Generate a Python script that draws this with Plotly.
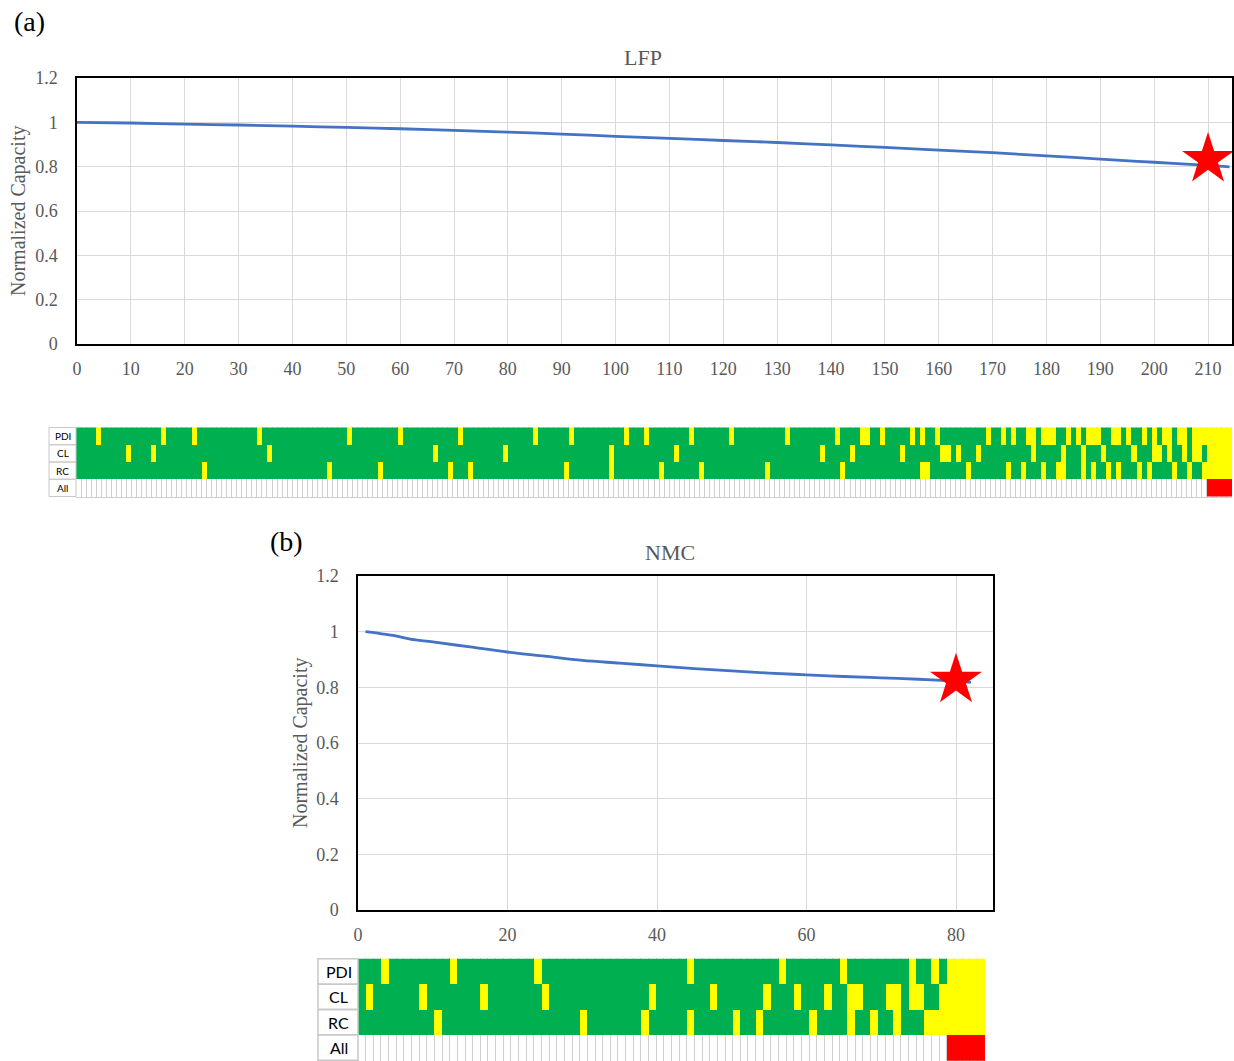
import plotly.graph_objects as go

# ---------------- data ----------------
lfp_cycles = [0, 10, 20, 30, 40, 50, 60, 70, 80, 90, 100, 110, 120, 130, 140, 150,
              160, 170, 180, 190, 200, 210, 214]
lfp_capacity = [1.000, 0.997, 0.992, 0.988, 0.983, 0.977, 0.971, 0.964, 0.956, 0.947,
                0.937, 0.928, 0.918, 0.909, 0.898, 0.887, 0.875, 0.863, 0.849, 0.834,
                0.820, 0.806, 0.799]
lfp_star_x = [210]
lfp_star_y = [0.833]

nmc_cycles = [1, 3, 5, 7, 10, 15, 20, 25, 30, 35, 40, 45, 50, 55, 60, 65, 70, 75, 80, 82]
nmc_capacity = [1.000, 0.993, 0.985, 0.973, 0.963, 0.945, 0.927, 0.912, 0.897, 0.887,
                0.877, 0.867, 0.859, 0.851, 0.845, 0.839, 0.834, 0.829, 0.822, 0.818]
nmc_star_x = [80]
nmc_star_y = [0.826]

row_labels = ["All", "RC", "CL", "PDI"]  # bottom -> top

lfp_n_cols = 230
lfp_pdi_yellow = [4, 17, 23, 36, 54, 64, 76, 91, 98, 109, 113, 122, 130, 141, 151, 156, 157,
                  160, 166, 168, 171, 181, 184, 186, 189, 190, 192, 193, 194, 197, 199, 201,
                  202, 203, 206, 207, 209, 212, 214, 216, 217, 219, 220, 222, 223, 224, 225,
                  226, 227, 228, 229]
lfp_cl_yellow = [10, 15, 38, 71, 85, 106, 119, 148, 154, 164, 172, 173, 175, 179, 190, 196,
                 200, 204, 210, 214, 215, 217, 220, 222, 223, 225, 226, 227, 228, 229]
lfp_rc_yellow = [25, 50, 60, 74, 78, 97, 106, 116, 124, 137, 152, 168, 169, 177, 185, 188,
                 192, 195, 196, 200, 202, 205, 207, 211, 213, 218, 221, 224, 225, 226, 227,
                 228, 229]
lfp_all_red = [225, 226, 227, 228, 229]

nmc_n_cols = 82
nmc_pdi_yellow = [3, 12, 23, 43, 55, 63, 72, 75, 77, 78, 79, 80, 81]
nmc_cl_yellow = [1, 8, 16, 24, 38, 46, 53, 57, 61, 64, 65, 69, 70, 72, 73, 76, 77, 78, 79,
                 80, 81]
nmc_rc_yellow = [10, 29, 37, 43, 49, 52, 59, 64, 67, 70, 74, 75, 76, 77, 78, 79, 80, 81]
nmc_all_red = [77, 78, 79, 80, 81]

# ---------------- styles ----------------
W, H = 1234, 1061
GREEN, YELLOW, RED = "#00B050", "#FFFF00", "#FF0000"
LINE_BLUE = "#4472C4"
GRID = "#D9D9D9"
TXT = "#595959"
SERIF = "Liberation Serif, Times New Roman, serif"
SANS = "Lato, Noto Sans, sans-serif"


def px_x(p):
    return p / W


def px_y(p):
    return 1 - p / H


def build_z(n, pdi, cl, rc, red):
    all_row = [2 if i in red else None for i in range(n)]
    rc_row = [1 if i in rc else 0 for i in range(n)]
    cl_row = [1 if i in cl else 0 for i in range(n)]
    pdi_row = [1 if i in pdi else 0 for i in range(n)]
    return [all_row, rc_row, cl_row, pdi_row]


cscale = [[0, GREEN], [0.25, GREEN], [0.25, YELLOW], [0.75, YELLOW], [0.75, RED], [1, RED]]

fig = go.Figure()

# LFP line
fig.add_trace(go.Scatter(x=lfp_cycles, y=lfp_capacity, mode="lines",
                         line=dict(color=LINE_BLUE, width=2.8, shape="spline"),
                         xaxis="x", yaxis="y", showlegend=False))
fig.add_trace(go.Scatter(x=lfp_star_x, y=lfp_star_y, mode="markers",
                         marker=dict(symbol="star", size=39, color=RED, line=dict(width=0)),
                         xaxis="x", yaxis="y", showlegend=False, cliponaxis=False))
# LFP heatmap
fig.add_trace(go.Heatmap(z=build_z(lfp_n_cols, lfp_pdi_yellow, lfp_cl_yellow, lfp_rc_yellow, lfp_all_red),
                         x=list(range(lfp_n_cols)), y=row_labels, colorscale=cscale,
                         zmin=0, zmax=2, showscale=False, xaxis="x2", yaxis="y2",
                         hoverongaps=False))
# NMC line
fig.add_trace(go.Scatter(x=nmc_cycles, y=nmc_capacity, mode="lines",
                         line=dict(color=LINE_BLUE, width=2.8, shape="spline"),
                         xaxis="x3", yaxis="y3", showlegend=False))
fig.add_trace(go.Scatter(x=nmc_star_x, y=nmc_star_y, mode="markers",
                         marker=dict(symbol="star", size=39, color=RED, line=dict(width=0)),
                         xaxis="x3", yaxis="y3", showlegend=False, cliponaxis=False))
# NMC heatmap
fig.add_trace(go.Heatmap(z=build_z(nmc_n_cols, nmc_pdi_yellow, nmc_cl_yellow, nmc_rc_yellow, nmc_all_red),
                         x=list(range(nmc_n_cols)), y=row_labels, colorscale=cscale,
                         zmin=0, zmax=2, showscale=False, xaxis="x4", yaxis="y4",
                         hoverongaps=False))

tickfont = dict(family=SERIF, size=18, color=TXT)

line_x = dict(showline=True, mirror=True, linecolor="black", linewidth=1.5,
              showgrid=True, gridcolor=GRID, gridwidth=1, zeroline=False,
              ticks="", tickfont=tickfont, ticklabelstandoff=8, automargin=False)
line_y = dict(showline=True, mirror=True, linecolor="black", linewidth=1.5,
              showgrid=True, gridcolor=GRID, gridwidth=1, zeroline=False,
              ticks="", tickfont=tickfont, range=[0, 1.2], dtick=0.2, tick0=0,
              ticklabelstandoff=14, automargin=False)

heat_x = dict(showgrid=True, gridcolor="#CFCFCF", gridwidth=1, zeroline=False,
              tick0=-0.5, dtick=1, showticklabels=False, ticks="",
              showline=True, linecolor="#D0D0D0", linewidth=1, automargin=False)
heat_y = dict(showgrid=False, zeroline=False, showticklabels=False, ticks="",
              type="category", fixedrange=True, automargin=False)

fig.update_layout(
    width=W, height=H, margin=dict(l=0, r=0, t=0, b=0, pad=0), autosize=False,
    paper_bgcolor="white", plot_bgcolor="white",
    xaxis=dict(line_x, domain=[px_x(77), px_x(1232)], range=[0, 214.45], dtick=10, tick0=0,
               anchor="y"),
    yaxis=dict(line_y, domain=[px_y(344), px_y(78)], anchor="x"),
    xaxis2=dict(heat_x, domain=[px_x(76), px_x(1232)], range=[-0.5, lfp_n_cols - 0.5],
                anchor="y2"),
    yaxis2=dict(heat_y, domain=[px_y(497), px_y(427)], anchor="x2"),
    xaxis3=dict(line_x, domain=[px_x(358), px_x(993)], range=[0, 84.95], dtick=20, tick0=0,
                anchor="y3"),
    yaxis3=dict(line_y, domain=[px_y(910), px_y(576)], anchor="x3"),
    xaxis4=dict(heat_x, domain=[px_x(358), px_x(985)], range=[-0.5, nmc_n_cols - 0.5],
                anchor="y4"),
    yaxis4=dict(heat_y, domain=[0, px_y(958)], anchor="x4"),
)


def ann(text, x, y, size, color, family=SERIF, xref="paper", yref="paper", angle=0):
    return dict(text=text, x=x, y=y, xref=xref, yref=yref, showarrow=False,
                xanchor="center", yanchor="middle", textangle=angle,
                font=dict(family=family, size=size, color=color))


annotations = [
    ann("(a)", px_x(29), px_y(22), 28, "black"),
    ann("(b)", px_x(286), px_y(541), 28, "black"),
    ann("LFP", px_x(643), px_y(57), 22, TXT),
    ann("NMC", px_x(670), px_y(552), 22, TXT),
    ann("Normalized Capacity", px_x(18), 0.5, 20, TXT, yref="y domain", angle=-90),
    ann("Normalized Capacity", px_x(300), 0.5, 20, TXT, yref="y3 domain", angle=-90),
]
shapes = []
for i, lab in enumerate(row_labels):
    annotations.append(ann(lab, px_x(62.5), lab, 10, "black", family=SANS, yref="y2"))
    annotations.append(ann(lab, px_x(338.5), lab, 16, "black", family=SANS, yref="y4"))
    shapes.append(dict(type="rect", xref="paper", yref="y2", x0=px_x(49), x1=px_x(76),
                       y0=i - 0.5, y1=i + 0.5, line=dict(color="#C8C8C8", width=1)))
    shapes.append(dict(type="rect", xref="paper", yref="y4", x0=px_x(318), x1=px_x(358),
                       y0=i - 0.5, y1=i + 0.5, line=dict(color="#C8C8C8", width=1.5)))

fig.update_layout(annotations=annotations, shapes=shapes)

fig.write_html("out.html", config={"displayModeBar": False},
               post_script="document.body.style.margin='0';document.body.style.overflow='hidden';")
